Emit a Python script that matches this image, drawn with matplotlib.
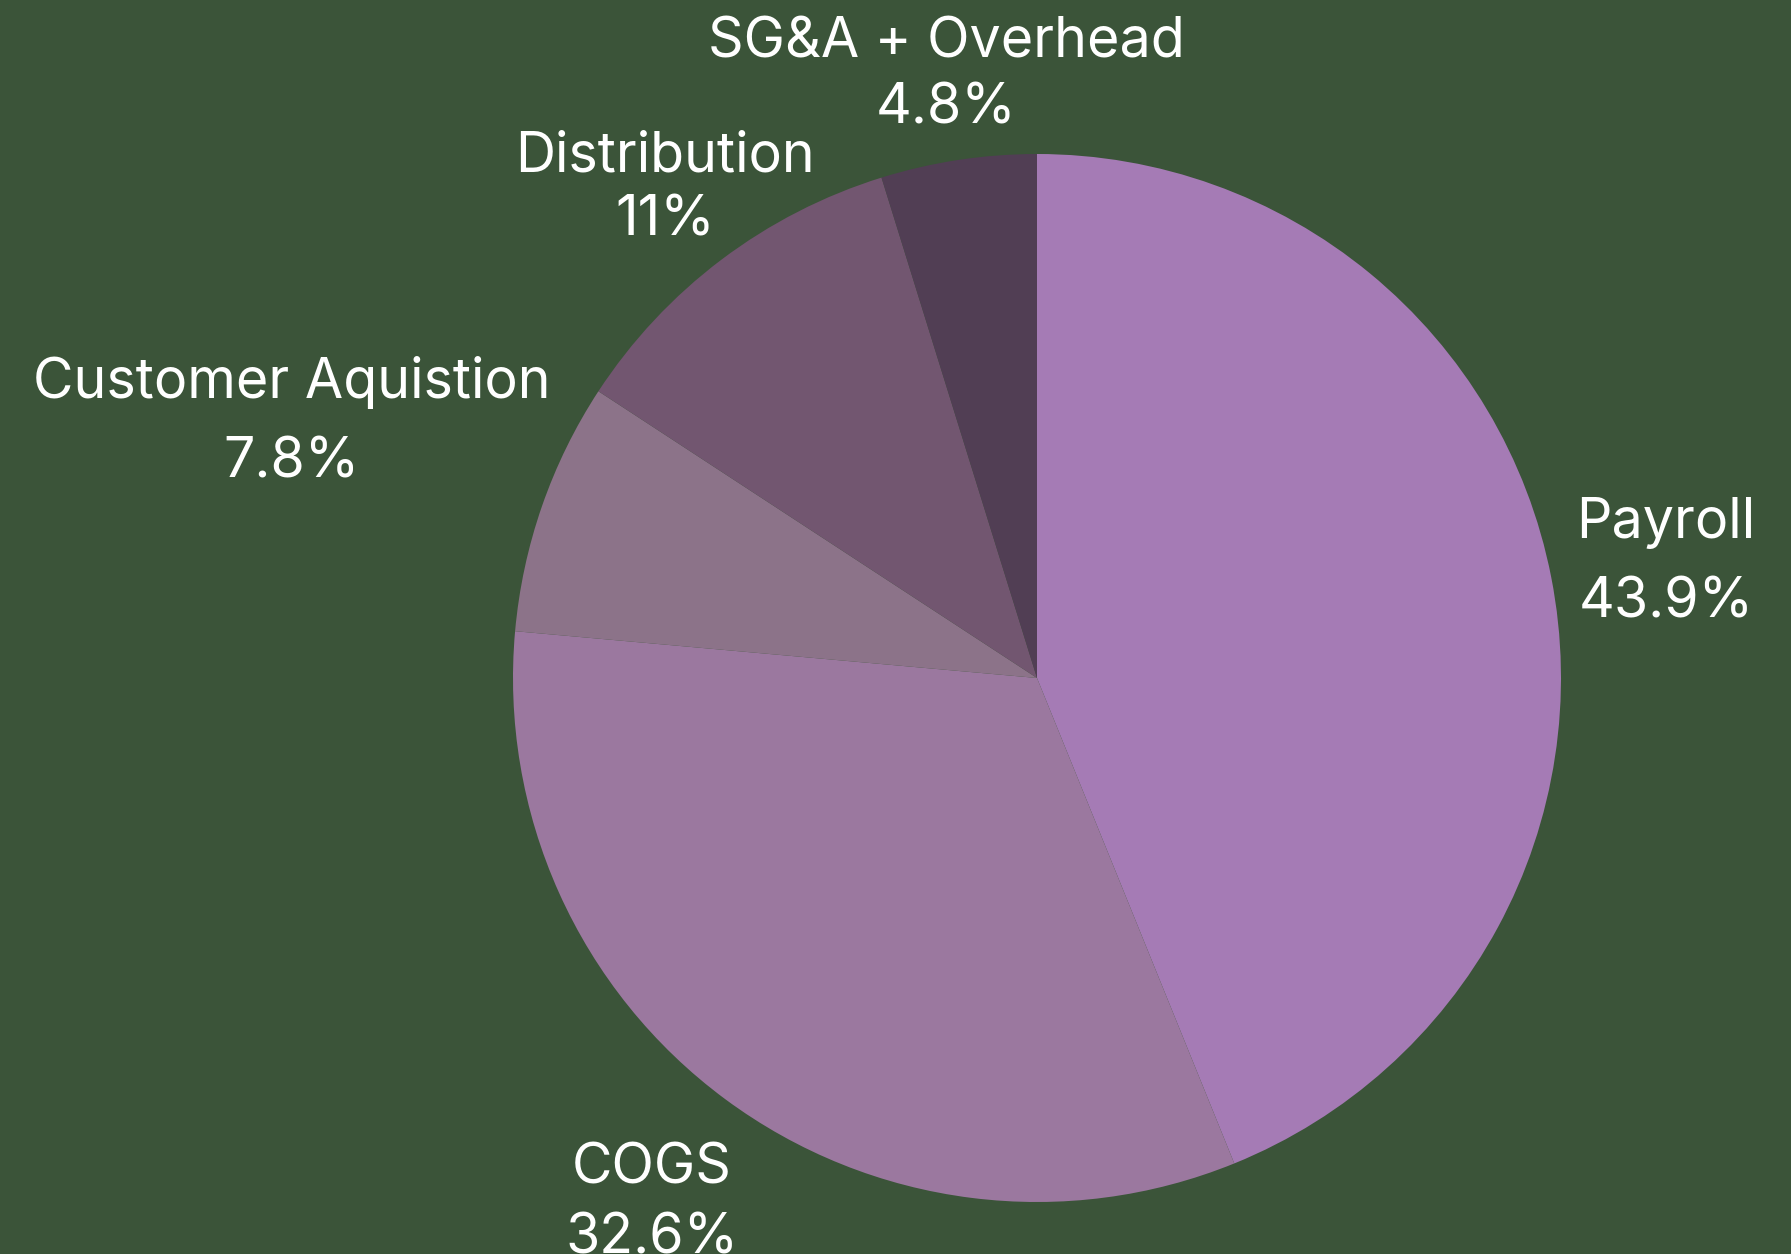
import matplotlib
matplotlib.use("Agg")
import matplotlib.pyplot as plt

categories = ["Payroll", "COGS", "Customer Aquistion", "Distribution", "SG&A + Overhead"]
values = [43.9, 32.6, 7.8, 11.0, 4.8]
pct_labels = ["43.9%", "32.6%", "7.8%", "11%", "4.8%"]
colors = ["#A57BB5", "#9B789F", "#8C7389", "#725670", "#513E54"]
bg = "#3B5439"

W, H = 1791, 1254
fig = plt.figure(figsize=(W / 100, H / 100), dpi=100, facecolor=bg)
ax = fig.add_axes([0, 0, 1, 1])
ax.set_facecolor(bg)

cx, cy, r = 1037, H - 678, 524
ax.pie(values, colors=colors, startangle=90, counterclock=False,
       center=(cx, cy), radius=r, frame=True,
       wedgeprops=dict(linewidth=0, antialiased=True))
ax.set_xlim(0, W)
ax.set_ylim(0, H)
ax.set_aspect("equal")
ax.axis("off")

# label positions (x center, baseline of name, baseline of percent) in image px
label_pos = [(1666, 538, 617), (652, 1183, 1253), (292, 398, 477),
             (665, 171, 236), (946, 57, 123)]
fs = 40
for name, pct, (x, b1, b2) in zip(categories, pct_labels, label_pos):
    ax.text(x, H - b1, name, ha="center", va="baseline", color="white",
            fontsize=fs, family=["Inter", "DejaVu Sans"])
    ax.text(x, H - b2, pct, ha="center", va="baseline", color="white",
            fontsize=fs, family=["Inter", "DejaVu Sans"])

fig.savefig("out.png", dpi=100, facecolor=bg)
